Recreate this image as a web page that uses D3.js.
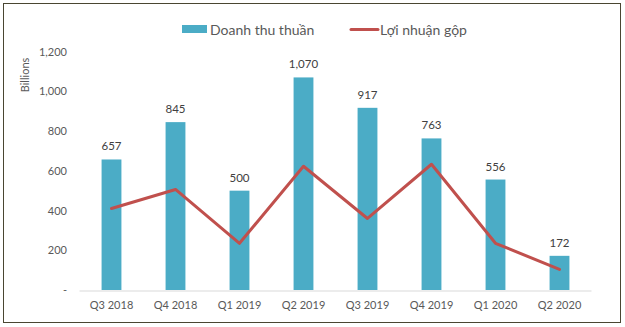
<!DOCTYPE html>
<html>
<head>
<meta charset="utf-8">
<script src="https://cdn.jsdelivr.net/npm/d3@7"></script>
<style>
  body { margin: 0; background: #fff; }
  svg { display: block; font-family: Lato, "Open Sans", sans-serif; }
</style>
</head>
<body>
<svg id="chart" width="625" height="327"></svg>
<script>
const categories = ["Q3 2018", "Q4 2018", "Q1 2019", "Q2 2019", "Q3 2019", "Q4 2019", "Q1 2020", "Q2 2020"];
const revenue = [657, 845, 500, 1070, 917, 763, 556, 172];
const grossProfit = [410, 506, 235, 623, 360, 633, 235, 104];
const yTicks = [0, 200, 400, 600, 800, 1000, 1200];
const seriesNames = ["Doanh thu thuần", "Lợi nhuận gộp"];

const svg = d3.select("#chart");
const barColor = "#4BACC6", lineColor = "#C0504D", textColor = "#595959";

svg.append("rect").attr("x", 3.5).attr("y", 3.5).attr("width", 617).attr("height", 319)
  .attr("fill", "#fff").attr("stroke", "#4a4632").attr("stroke-width", 1);

const x = d3.scaleBand().domain(categories).range([79.5, 591.5]).paddingInner(0.69).paddingOuter(0.345);
const y = d3.scaleLinear().domain([0, 1200]).range([290, 51.6]);

const fmt = d3.format(",");

// y axis
const yAxis = svg.append("g").attr("transform", "translate(67,0)")
  .call(d3.axisLeft(y).tickValues(yTicks).tickSize(0).tickPadding(0)
    .tickFormat(d => d === 0 ? "-" : fmt(d)));
yAxis.select(".domain").remove();
yAxis.selectAll("text").attr("fill", textColor).style("font-size", "11px")
  .style("font-family", "Lato, 'Open Sans', sans-serif");

// x axis
const xAxis = svg.append("g").attr("transform", "translate(0,290.5)")
  .call(d3.axisBottom(x).tickSize(0).tickPadding(11));
xAxis.select(".domain").attr("stroke", "#D9D9D9").attr("d", "M79.5,0.5H591.5");
xAxis.selectAll("text").attr("fill", textColor).style("font-size", "11px")
  .style("font-family", "Lato, 'Open Sans', sans-serif");

// y title
svg.append("text").attr("transform", "translate(29,75) rotate(-90)")
  .attr("text-anchor", "middle").attr("fill", textColor).style("font-size", "11px")
  .text("Billions");

// bars
svg.append("g").selectAll("rect").data(revenue).join("rect")
  .attr("x", (d, i) => x(categories[i]))
  .attr("width", x.bandwidth())
  .attr("y", d => y(d))
  .attr("height", d => y(0) - y(d))
  .attr("fill", barColor);

// bar labels
svg.append("g").selectAll("text").data(revenue).join("text")
  .attr("x", (d, i) => x(categories[i]) + x.bandwidth() / 2)
  .attr("y", d => y(d) - 9)
  .attr("text-anchor", "middle").attr("fill", "#404040").style("font-size", "11.5px")
  .text(d => fmt(d));

// line
const line = d3.line().x((d, i) => x(categories[i]) + x.bandwidth() / 2).y(d => y(d));
svg.append("path").datum(grossProfit).attr("d", line)
  .attr("fill", "none").attr("stroke", lineColor).attr("stroke-width", 3)
  .attr("stroke-linejoin", "round").attr("stroke-linecap", "round");

// legend
const lg = svg.append("g");
lg.append("rect").attr("x", 182).attr("y", 25).attr("width", 25).attr("height", 8).attr("fill", barColor);
lg.append("text").attr("x", 210).attr("y", 34.5).attr("fill", textColor).style("font-size", "14px").text(seriesNames[0]);
lg.append("line").attr("x1", 351).attr("x2", 378).attr("y1", 29.5).attr("y2", 29.5)
  .attr("stroke", lineColor).attr("stroke-width", 3).attr("stroke-linecap", "round");
lg.append("text").attr("x", 380).attr("y", 34.5).attr("fill", textColor).style("font-size", "14px").text(seriesNames[1]);
</script>
</body>
</html>
